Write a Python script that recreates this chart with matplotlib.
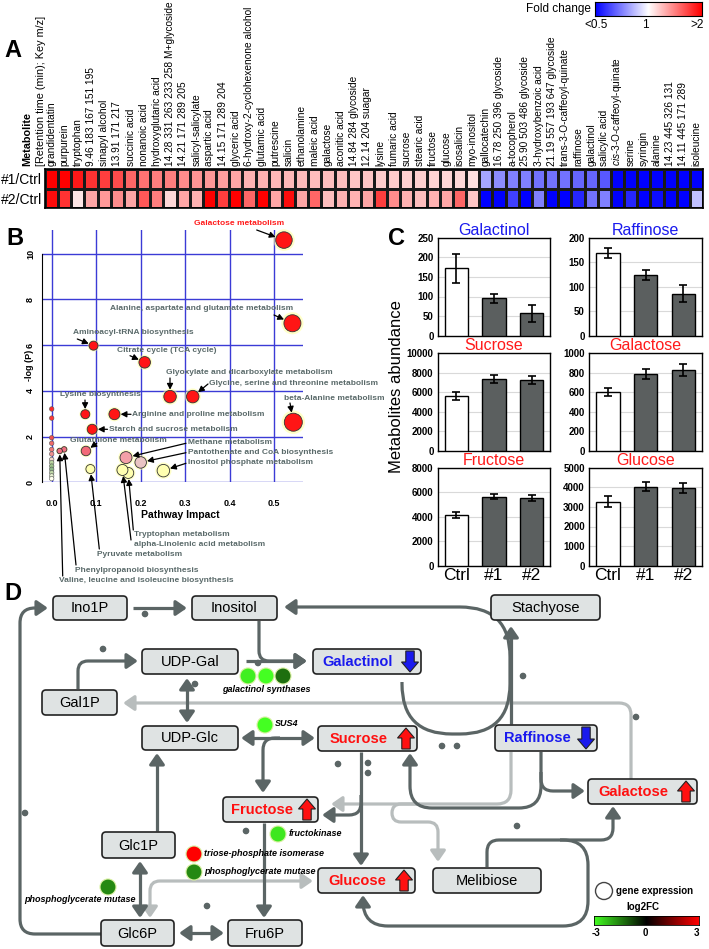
import numpy as np
import matplotlib
matplotlib.use('Agg')
import matplotlib.pyplot as plt
from matplotlib.colors import LinearSegmentedColormap
from matplotlib.patches import FancyBboxPatch, FancyArrowPatch, Circle, Polygon
from matplotlib.path import Path

plt.rcParams['font.family'] = ['Liberation Sans', 'DejaVu Sans']
plt.rcParams['mathtext.fontset'] = 'custom'
plt.rcParams['mathtext.it'] = 'Liberation Sans:italic'
plt.rcParams['mathtext.rm'] = 'Liberation Sans'

# ---------------- DATA ----------------
# Panel A: metabolites and log2 fold changes (clipped at +-1 => <0.5 / >2)
metabolites = ['grandidentatin', 'purpurein', 'tryptophan', '9.46 183 167 151 195', 'sinapyl alcohol',
               '13.91 171 217', 'succinic acid', 'nonanoic acid', 'hydroxyglutaric acid',
               '14.28 331 263 233 258 M+glycoside', '14.21 171 289 205', 'salicyl-salicylate',
               'aspartic acid', '14.15 171 289 204', 'glyceric acid', '6-hydroxy-2-cyclohexenone alcohol',
               'glutamic acid', 'putrescine', 'salicin', 'ethanolamine', 'maleic acid', 'galactose',
               'aconitic acid', '14.84 284 glycoside', '12.14 204 suagar', 'lysine', 'fumaric acid',
               'sucrose', 'stearic acid', 'fructose', 'glucose', 'isosalicin', 'myo-inositol',
               'gallocatechin', '16.78 250 396 glycoside', 'a-tocopherol', '25.90 503 486 glycoside',
               '3-hydroxybenzoic acid', '21.19 557 193 647 glycoside', 'trans-3-O-caffeoyl-quinate',
               'raffinose', 'galactinol', 'salicylic acid', r'$\it{cis}$-3-O-caffeoyl-quinate', 'serine',
               'syringin', 'alanine', '14.23 445 326 131', '14.11 445 171 289', 'isoleucine']
fc_line1 = [1.0, 1.0, 0.9, 0.8, 0.75, 0.7, 0.6, 0.55, 0.5, 0.5, 0.45, 0.42, 0.4, 0.38, 0.35, 0.3,
            0.3, 0.28, 0.28, 0.27, 0.26, 0.25, 0.25, 0.22, 0.22, 0.2, 0.2, 0.18, 0.18, 0.17, 0.16,
            0.15, 0.12, -0.35, -0.45, -0.5, -0.5, -0.55, -0.55, -0.55, -0.6, -0.6, -0.65,
            -1.0, -1.0, -1.0, -1.0, -1.0, -1.0, -1.0]
fc_line2 = [0.95, 0.8, 0.1, 0.35, 0.4, 0.45, 0.35, 0.65, 0.5, 0.15, 0.35, 0.3, 1.0, 0.75, 1.0, 0.6,
            1.0, 0.35, 0.95, 0.35, 0.6, 0.25, 0.3, 0.3, 0.35, 0.75, 0.45, 0.3, 0.25, 0.3, 0.35,
            0.6, 0.22, -1.0, -1.0, -0.75, -1.0, -0.5, -1.0, -1.0, -0.85, -0.55, -0.5,
            -1.0, -0.85, -1.0, -0.95, -1.0, -1.0, -0.25]
row_labels = ['#1/Ctrl', '#2/Ctrl']
fc_ticklabels = ['<0.5', '1', '>2']

# Panel B: pathway analysis
pathways = ['Galactose metabolism', 'Alanine, aspartate and glutamate metabolism',
            'Aminoacyl-tRNA biosynthesis', 'Citrate cycle (TCA cycle)',
            'Glyoxylate and dicarboxylate metabolism', 'Glycine, serine and threonine metabolism',
            'beta-Alanine metabolism', 'Lysine biosynthesis', 'Arginine and proline metabolism',
            'Starch and sucrose metabolism', 'Glutathione metabolism', 'Methane metabolism',
            'Pantothenate and CoA biosynthesis', 'Inositol phosphate metabolism',
            'Tryptophan metabolism', 'alpha-Linolenic acid metabolism', 'Pyruvate metabolism',
            'Phenylpropanoid biosynthesis', 'Valine, leucine and isoleucine biosynthesis']
impact = [0.522, 0.541, 0.094, 0.209, 0.266, 0.317, 0.543, 0.0755, 0.141, 0.091, 0.077, 0.167,
          0.200, 0.251, 0.172, 0.159, 0.087, 0.028, 0.018]
neglogp = [10.6, 6.96, 5.98, 5.25, 3.75, 3.75, 2.63, 2.98, 2.98, 2.32, 1.37, 1.08, 0.87, 0.51,
           0.41, 0.54, 0.58, 1.44, 1.37]
zero_impact_p = [3.21, 2.81, 1.95, 1.71, 1.44, 1.24, 1.0, 0.86, 0.71, 0.57, 0.42, 0.28, 0.16]

# Panel C: metabolite abundances
c_names = ['Galactinol', 'Raffinose', 'Sucrose', 'Galactose', 'Fructose', 'Glucose']
c_groups = ['Ctrl', '#1', '#2']
c_means = [[172, 95, 57], [169, 124, 86], [5660, 7370, 7270], [607, 785, 829],
           [4140, 5630, 5550], [3265, 4030, 3950]]
c_errs = [[37, 11, 21], [11, 10, 18], [430, 400, 430], [40, 50, 60],
          [280, 200, 230], [270, 230, 255]]
c_ymax = [250, 200, 10000, 1000, 8000, 5000]
c_step = [50, 50, 2000, 200, 2000, 1000]

# Panel D: pathway nodes and enzyme expression (log2FC)
d_nodes = ['Ino1P', 'Inositol', 'Stachyose', 'UDP-Gal', 'Galactinol', 'Gal1P', 'UDP-Glc',
           'Sucrose', 'Raffinose', 'Fructose', 'Galactose', 'Glc1P', 'Glucose', 'Melibiose',
           'Glc6P', 'Fru6P']
d_change = {'Galactinol': 'down', 'Raffinose': 'down', 'Sucrose': 'up', 'Fructose': 'up',
            'Galactose': 'up', 'Glucose': 'up'}
enzymes = ['galactinol synthases', 'SUS4', 'fructokinase', 'triose-phosphate isomerase',
           'phosphoglycerate mutase', 'phosphoglycerate mutase']
enzyme_fc = [[-2.8, -3.0, -1.3], [-3.0], [-2.7], [3.0], [-1.6], [-1.6]]

# ---------------- FIGURE ----------------
W, H = 709, 949
fig = plt.figure(figsize=(W / 100, H / 100), dpi=100)


def px_axes(x0, y0, x1, y1, **kw):
    return fig.add_axes([x0 / W, 1 - y1 / H, (x1 - x0) / W, (y1 - y0) / H], **kw)


def ff(x, y):
    return (x / W, 1 - y / H)


# overlay axes in pixel coordinates for the diagram
axD = fig.add_axes([0, 0, 1, 1])
axD.set_xlim(0, W)
axD.set_ylim(H, 0)
axD.axis('off')
axD.patch.set_alpha(0)

# ---- Panel A ----
cmap_fc = LinearSegmentedColormap.from_list('fc', ['#0000ff', '#ffffff', '#ff0000'])
axA = px_axes(45, 169, 703, 208)
data = np.array([fc_line1, fc_line2])
axA.pcolormesh(np.arange(len(metabolites) + 1) - 0.5, [-0.5, 0.5, 1.5], data, cmap=cmap_fc,
               vmin=-1, vmax=1, edgecolors='#1a1a1a', linewidth=0.8)
axA.set_xlim(-0.5, len(metabolites) - 0.5)
axA.set_ylim(1.5, -0.5)
axA.xaxis.tick_top()
axA.set_xticks(range(len(metabolites)))
axA.set_xticklabels(metabolites, rotation=90, fontsize=7.3)
axA.set_yticks([0, 1])
axA.set_yticklabels(row_labels, fontsize=10)
axA.tick_params(length=0, pad=2)
for s in axA.spines.values():
    s.set_linewidth(1.2)
fig.text(*ff(27, 166), 'Metabolite', rotation=90, ha='center', va='bottom', fontsize=7.8,
         fontweight='bold')
fig.text(*ff(41, 166), '[Retention time (min); Key m/z]', rotation=90, ha='center', va='bottom',
         fontsize=7.8)

axF = px_axes(595, 2, 702, 16)
axF.imshow(np.linspace(-1, 1, 256)[None, :], aspect='auto', cmap=cmap_fc)
axF.set_xticks([])
axF.set_yticks([])
fig.text(*ff(591, 9), 'Fold change', ha='right', va='center', fontsize=8.5)
for lab, x in zip(fc_ticklabels, [596, 645, 697]):
    fig.text(*ff(x, 25), lab, ha='center', va='center', fontsize=8.5)

# ---- Panel B ----
axB = px_axes(41.9, 229.8, 303.1, 482.3)
axB.set_xlim(-0.022, 0.565)
axB.set_ylim(0, 11.05)
for xv in np.arange(0, 0.51, 0.1):
    axB.axvline(xv, color='#3b3bd6', lw=1, zorder=1)
for yv in range(0, 11, 2):
    axB.axhline(yv, color='#3b3bd6', lw=1, zorder=1)
for s in ['top', 'right', 'bottom']:
    axB.spines[s].set_visible(False)
axB.spines['left'].set_bounds(0, 10)
axB.set_xticks(np.arange(0, 0.51, 0.1))
axB.set_xticklabels(['%.1f' % v for v in np.arange(0, 0.51, 0.1)], fontsize=6.5,
                    fontweight='bold')
axB.set_yticks(range(0, 11, 2))
axB.set_yticklabels([str(v) for v in range(0, 11, 2)], fontsize=6.5, fontweight='bold',
                    rotation=90, va='center')
axB.tick_params(axis='x', length=0, pad=12)
axB.tick_params(axis='y', length=0, pad=5)
fig.text(*ff(180, 515), 'Pathway Impact', ha='center', va='center', fontsize=7.5,
         fontweight='bold')
fig.text(*ff(30, 365), '-log (P)', ha='center', va='center', fontsize=6.5, fontweight='bold',
         rotation=90)

b_diam = [16.5, 17, 9, 11.5, 12.5, 12.5, 18, 9, 11, 10, 9.5, 12, 11.5, 12.5, 11, 11, 9, 5.5, 5.5]
b_col = ['#ff1515'] * 10 + ['#f26a78', '#f4a0a8', '#e9c4c4', '#ffffb0', '#ffffb0', '#ffffb0',
                           '#ffffb0', '#f07080', '#f07080']
sz = (np.array(b_diam) * 0.72) ** 2
axB.scatter(impact, neglogp, s=sz * 1.7, c='#ffff9c', alpha=0.55, edgecolors='none', zorder=2,
            clip_on=False)
axB.scatter(impact, neglogp, s=sz, c=b_col, edgecolors='#333333', linewidths=0.6, zorder=3,
            clip_on=False)
z_col = ['#ff2a2a', '#ff3535', '#f45050', '#f06868', '#f07878', '#f09090', '#f3d8cc',
         '#b8d4a0', '#9cc48a', '#8ab888', '#c0d8a8', '#e6f0d0', '#fffff0']
axB.scatter([0.0] * len(zero_impact_p), zero_impact_p, s=(4.5 * 0.72) ** 2, c=z_col,
            edgecolors='#555555', linewidths=0.4, zorder=3)

b_layout = [((238.7, 223.3), 'center', (256.7, 230)),
            ((201.7, 308.3), 'center', (274, 315)),
            ((133.3, 332.3), 'center', (77.3, 339)),
            ((166.7, 351.0), 'center', (130, 355.7)),
            ((165.7, 372.3), 'left', (170, 378)),
            ((209.3, 383.3), 'left', (208, 384)),
            ((284.3, 398.3), 'left', (290, 403)),
            ((100.0, 395.0), 'center', (85, 400)),
            ((132.3, 414.3), 'left', (131, 414.3)),
            ((109.0, 429.3), 'left', (107.5, 429.3)),
            ((118.3, 441.0), 'center', (96.7, 443.3)),
            ((187.7, 442.7), 'left', (186, 443.3)),
            ((187.7, 452.7), 'left', (186, 452.7)),
            ((187.7, 462.7), 'left', (186, 463.3)),
            ((134.3, 534.0), 'left', (133.3, 530)),
            ((134.3, 544.0), 'left', (131, 540)),
            ((140.0, 554.3), 'center', (99.3, 549)),
            ((136.7, 570.0), 'center', (76, 565)),
            ((146.7, 581.0), 'center', (62.7, 576))]
for i, name in enumerate(pathways):
    (tx, ty), ha, (sx, sy) = b_layout[i]
    col = '#ff1a1a' if i == 0 else '#5a6a6a'
    fig.text(*ff(tx, ty), name, ha=ha, va='center', fontsize=6, fontweight='bold', color=col)
    axB.annotate('', xy=(impact[i], neglogp[i]), xycoords='data', xytext=ff(sx, sy),
                 textcoords='figure fraction',
                 arrowprops=dict(arrowstyle='-|>,head_length=0.35,head_width=0.18', color='black',
                                 lw=0.9, shrinkA=0, shrinkB=b_diam[i] * 0.36 + 0.5))

# ---- Panel C ----
c_cols = [(437.7, 550.3), (589, 702.3)]
c_rows = [(237.7, 335.7), (353.3, 451), (467.7, 565.7)]
title_col = ['#1a1aee', '#1a1aee', '#ff1a1a', '#ff1a1a', '#ff1a1a', '#ff1a1a']
for k, name in enumerate(c_names):
    r, c = divmod(k, 2)
    ax = px_axes(c_cols[c][0], c_rows[r][0], c_cols[c][1], c_rows[r][1])
    xs = np.arange(3)
    ax.bar(xs, c_means[k], width=0.62, color=['white', '#5b5f5f', '#5b5f5f'],
           edgecolor='black', linewidth=1, yerr=c_errs[k], capsize=3,
           error_kw=dict(lw=1.2, capthick=1.2, ecolor='black'), zorder=3)
    ax.set_xlim(-0.5, 2.5)
    ax.set_ylim(0, c_ymax[k])
    ticks = np.arange(0, c_ymax[k] + 1, c_step[k])
    ax.set_yticks(ticks)
    ax.set_yticklabels([str(int(t)) for t in ticks], fontsize=7, fontweight='bold')
    ax.yaxis.grid(True, color='#d9d9d9', lw=0.8, zorder=0)
    ax.set_axisbelow(True)
    ax.tick_params(length=0, pad=3)
    ax.set_xticks(xs)
    if r == 2:
        ax.set_xticklabels(c_groups, fontsize=12.5)
        ax.tick_params(axis='x', pad=2)
    else:
        ax.set_xticklabels([])
    for s in ax.spines.values():
        s.set_linewidth(1)
    ax.set_title(name, fontsize=11.5, color=title_col[k], pad=1)
fig.text(*ff(396.7, 387), 'Metabolites abundance', rotation=90, ha='center', va='center',
         fontsize=12)

# ---- Panel letters ----
for lab, (x, y) in zip('ABCD', [(4, 57), (6, 245), (388, 245), (4, 600)]):
    fig.text(*ff(x, y), lab, fontsize=17, fontweight='bold', ha='left', va='baseline')

# ---- Panel D ----
dark = '#5b6565'
light = '#b8bdbd'
box = {'Ino1P': (53, 596, 127, 620), 'Inositol': (192, 596, 277, 620),
       'Stachyose': (491, 595, 600, 620), 'UDP-Gal': (142, 649, 238, 674),
       'Galactinol': (313, 649, 421, 674), 'Gal1P': (42, 690, 117, 715),
       'UDP-Glc': (142, 726, 238, 750), 'Sucrose': (318, 726, 417, 751),
       'Raffinose': (495, 725, 597, 751), 'Fructose': (223, 797, 318, 822),
       'Galactose': (588, 779, 697, 804), 'Glc1P': (102, 832, 175, 858),
       'Glucose': (318, 868, 415, 893), 'Melibiose': (433, 868, 541, 893),
       'Glc6P': (101, 920, 174, 946), 'Fru6P': (228, 920, 302, 946)}


def rpath(pts, r):
    verts = [pts[0]]
    codes = [Path.MOVETO]
    n = len(pts)
    for i in range(1, n - 1):
        p0, p1, p2 = np.array(pts[i - 1], float), np.array(pts[i], float), np.array(pts[i + 1], float)
        l1 = np.linalg.norm(p1 - p0)
        l2 = np.linalg.norm(p2 - p1)
        d1 = (p1 - p0) / l1
        d2 = (p2 - p1) / l2
        rr = min(r, l1 if i == 1 else l1 / 2, l2 if i == n - 2 else l2 / 2)
        a = p1 - d1 * rr
        b = p1 + d2 * rr
        verts += [tuple(a), tuple(p1), tuple(b)]
        codes += [Path.LINETO, Path.CURVE3, Path.CURVE3]
    verts.append(pts[-1])
    codes.append(Path.LINETO)
    return Path(verts, codes)


def flow(pts, color=dark, style='-|>', r=12, lw=2.3):
    if style == '-':
        st = '-'
    else:
        st = style + ',head_length=0.55,head_width=0.38'
    p = FancyArrowPatch(path=rpath(pts, r), arrowstyle=st, color=color, lw=lw,
                        mutation_scale=12, capstyle='butt', joinstyle='round')
    axD.add_patch(p)


# light gray arrows first
flow([(631, 779), (631, 703), (123, 703)], color=light, r=12)
flow([(511, 752), (511, 804), (331, 804)], color=light, r=14)
flow([(420, 804), (392, 804), (392, 822), (438, 822), (438, 862)], color=light, r=10)
flow([(150, 918), (150, 881), (313, 881)], color=light, style='<|-|>', r=10)

# dark arrows
flow([(133, 608), (187, 608)])
flow([(101, 934), (20, 934), (20, 608), (48, 608)], r=15)
flow([(402, 682), (402, 734), (510, 734), (510, 607), (284, 607)], r=50)
flow([(511, 724), (511, 626)])
flow([(259, 621), (259, 661), (307, 661)], r=10)
flow([(246, 661), (307, 661)])
flow([(78, 689), (78, 661), (138, 661)], r=10)
flow([(187, 678), (187, 723)], style='<|-|>')
flow([(241, 738), (315, 738)], style='<|-|>')
flow([(280, 738), (263, 738), (263, 793)], r=12)
flow([(157, 831), (157, 753)])
flow([(140, 861), (140, 918)], style='<|-|>')
flow([(179, 933), (224, 933)], style='<|-|>')
flow([(264, 823), (264, 918)])
flow([(361, 752), (361, 866)])
flow([(361, 795), (361, 815), (322, 815)], r=12)
flow([(541, 752), (541, 808), (410, 808), (410, 753)], r=22)
flow([(541, 772), (541, 791), (585, 791)], r=12)
flow([(487, 867), (487, 840), (613, 840), (613, 806)], r=12)
flow([(560, 840), (588, 840), (588, 926), (363, 926), (363, 895)], r=25)

# dots
for (x, y) in [(145, 614), (25, 813), (103, 649), (195, 684), (258, 663), (523, 676),
               (442, 746), (457, 746), (636, 717), (338, 764), (368, 763), (368, 773),
               (517, 826), (207, 906), (246, 831)]:
    axD.add_patch(Circle((x, y), 2.6, color=dark, zorder=4))


def block_arrow(cx, y0, y1, up, color):
    hw, sw, hh = 8.5, 4.2, 10
    if up:
        pts = [(cx, y0), (cx + hw, y0 + hh), (cx + sw, y0 + hh), (cx + sw, y1), (cx - sw, y1),
               (cx - sw, y0 + hh), (cx - hw, y0 + hh)]
    else:
        pts = [(cx, y1), (cx + hw, y1 - hh), (cx + sw, y1 - hh), (cx + sw, y0), (cx - sw, y0),
               (cx - sw, y1 - hh), (cx - hw, y1 - hh)]
    axD.add_patch(Polygon(pts, closed=True, fc=color, ec='#222222', lw=0.8, zorder=6))


for name in d_nodes:
    x0, y0, x1, y1 = box[name]
    axD.add_patch(FancyBboxPatch((x0, y0), x1 - x0, y1 - y0,
                                 boxstyle='round,pad=0,rounding_size=4', fc='#dfe3e3',
                                 ec='#222222', lw=1.2, zorder=5))
    cy = (y0 + y1) / 2
    if name in d_change:
        up = d_change[name] == 'up'
        col = '#ff1010' if up else '#1a1aee'
        acx = x1 - 11
        block_arrow(acx, y0 + 2, y1 - 2, up, col)
        axD.text((x0 + acx - 9) / 2 + 1, cy + 0.5, name, ha='center', va='center', fontsize=10.5,
                 fontweight='bold', color=col, zorder=6)
    else:
        axD.text((x0 + x1) / 2, cy + 0.5, name, ha='center', va='center', fontsize=10.5,
                 color='black', zorder=6)

# enzymes (gene expression circles)
cmap_ge = LinearSegmentedColormap.from_list('ge', ['#44ff22', '#000000', '#ff0000'])
enz_layout = [([(248, 676), (266, 676), (283, 676)], (222, 690), 'left'),
              ([(265, 725)], (275, 724), 'left'),
              ([(278, 834)], (289, 834), 'left'),
              ([(194, 854)], (204, 854), 'left'),
              ([(194, 872)], (204, 871), 'left'),
              ([(108, 887)], (24, 899), 'left')]
for name, vals, (centers, (tx, ty), ha) in zip(enzymes, enzyme_fc, enz_layout):
    for (cx, cy), v in zip(centers, vals):
        axD.add_patch(Circle((cx, cy), 8, fc=cmap_ge((v + 3) / 6), ec='#d8f0a0', lw=0.8,
                             zorder=7))
    axD.text(tx, ty, name, ha=ha, va='center', fontsize=6.5, fontweight='bold',
             fontstyle='italic', zorder=8)

# gene expression legend
axD.add_patch(Circle((604, 891), 8.5, fc='white', ec='#444444', lw=1, zorder=7))
axD.text(616, 891, 'gene expression', ha='left', va='center', fontsize=7, fontweight='bold')
axD.text(643, 906.5, 'log2FC', ha='center', va='center', fontsize=7, fontweight='bold')
axG = px_axes(594, 916, 699, 925)
axG.imshow(np.linspace(0, 1, 256)[None, :], aspect='auto', cmap=cmap_ge)
axG.set_xticks([])
axG.set_yticks([])
for s in axG.spines.values():
    s.set_linewidth(0.6)
for lab, x in zip(['-3', '0', '3'], [596, 645, 696]):
    axD.text(x, 933, lab, ha='center', va='center', fontsize=7, fontweight='bold')

fig.savefig('out.png', dpi=100)
